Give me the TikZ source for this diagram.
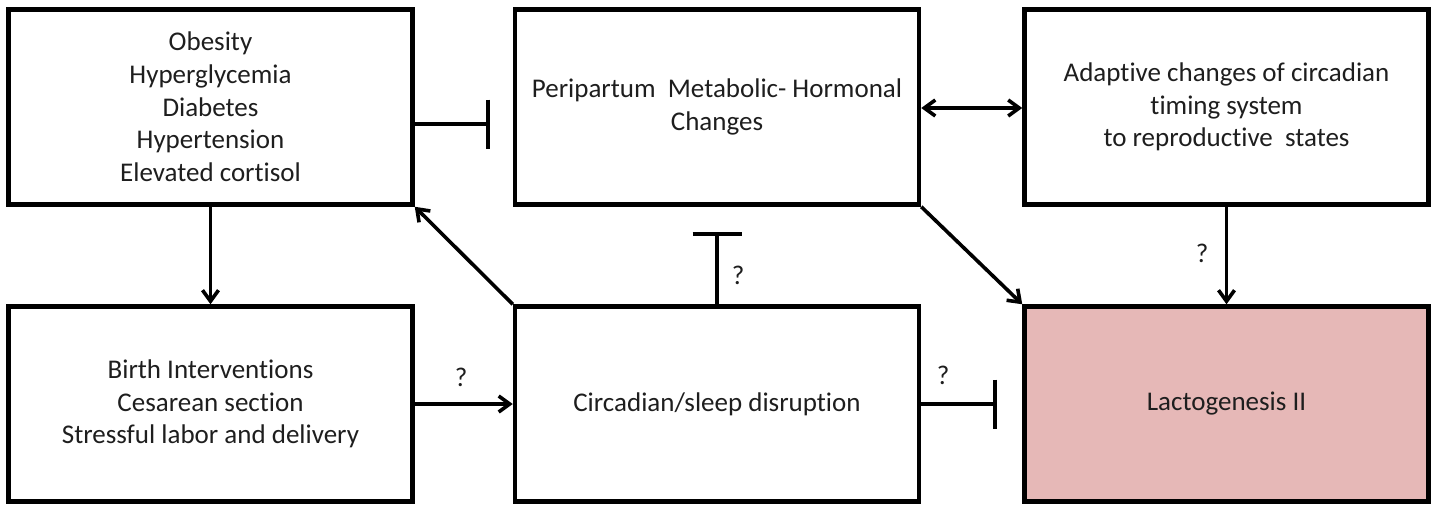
\documentclass[tikz,border=0pt]{standalone}
\usepackage{fontspec}
\setmainfont{Carlito}[Ligatures=NoCommon]
\usetikzlibrary{arrows.meta}
\definecolor{lacto}{HTML}{E6B8B7}
\definecolor{txt}{HTML}{1E1E1E}
\begin{document}
\begin{tikzpicture}[x=1pt,y=-1pt,
  box/.style={draw=black, line width=4.5pt, minimum width=404pt, minimum height=195pt,
    inner sep=0pt, align=center, text=txt, font=\fontsize{27}{32.7}\selectfont},
  conn/.style={line width=3.6pt},
  arr/.style={conn, -{Straight Barb[length=11pt,width=16pt]}},
  darr/.style={conn, {Straight Barb[length=11pt,width=16pt]}-{Straight Barb[length=11pt,width=16pt]}},
  inh/.style={conn, -{Bar[width=49pt]}},
  qlab/.style={font=\fontsize{27}{32}\selectfont, text=txt, inner sep=0pt}]
\useasboundingbox (0,0) rectangle (1439,512);
\node[box] (A) at (210.5,107) {Obesity\\Hyperglycemia\\Diabetes\\Hypertension\\Elevated cortisol};
\node[box] (B) at (717,107) {Peripartum\ \ Metabolic- Hormonal\\Changes};
\node[box] (C) at (1226.5,107) {Adaptive changes of circadian\\timing system\\to reproductive\ \ states};
\node[box] (D) at (210.5,404) {Birth Interventions\\Cesarean section\\Stressful labor and delivery};
\node[box] (E) at (717,404) {Circadian/sleep disruption};
\node[box, fill=lacto] (F) at (1226.5,404) {Lactogenesis II};
\coordinate (ab) at (490,124);
\coordinate (eb) at (717,232);
\coordinate (fb) at (997,404);
\coordinate (bc) at (0,108);
\draw[inh] (A.east |- ab) -- (ab);
\draw[arr] (A.south) -- (D.north);
\draw[arr] (E.north west) -- (A.south east);
\draw[inh] (E.north) -- (eb);
\draw[darr] (B.east |- bc) -- (C.west |- bc);
\draw[arr] (B.south east) -- (F.north west);
\draw[arr] (C.south) -- (F.north);
\draw[arr] (D.east) -- (E.west);
\draw[inh] (E.east) -- (fb);
\node[qlab] (q1) at (461,377) {?};
\node[qlab] (q2) at (943,375) {?};
\node[qlab] (q3) at (738,275) {?};
\node[qlab] (q4) at (1202,253) {?};
\end{tikzpicture}
\end{document}
